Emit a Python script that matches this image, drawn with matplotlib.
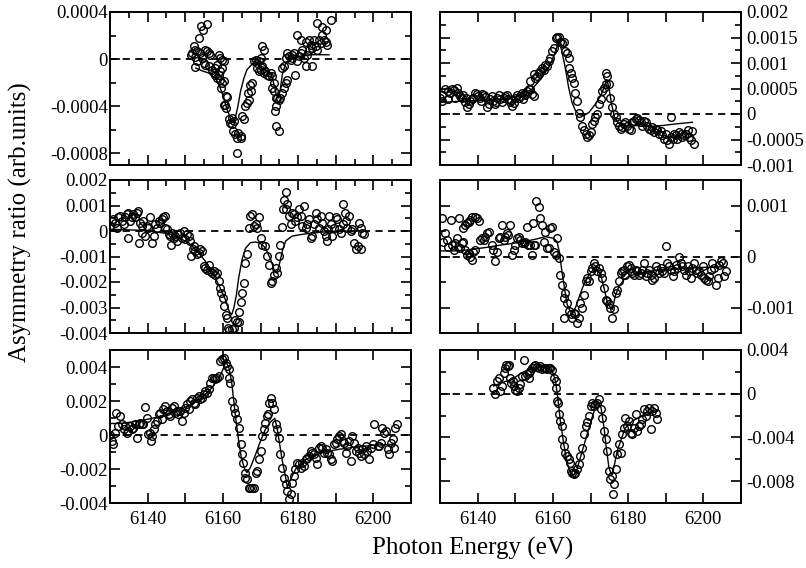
import numpy as np
import matplotlib
matplotlib.use('Agg')
import matplotlib.pyplot as plt
from matplotlib.ticker import MultipleLocator, FixedLocator, FuncFormatter

plt.rcParams['font.family'] = ['Liberation Serif', 'DejaVu Serif']

# energies in eV, asymmetry in units given by the scale of each panel
# --- top left (x1e-4)
scale_tl = 1e-4
pts_tl = [(6151.6, 0.37), (6152.2, 1.07), (6152.7, 0.79), (6153.6, 1.77), (6154.3, 2.85),
          (6154.7, 2.48), (6155.8, 2.96), (6151.8, 0.51), (6152.5, 0.14), (6153.1, 0.65),
          (6154.0, 0.51), (6154.4, 0.08), (6155.3, 0.79), (6155.8, 0.65), (6156.2, 0.51),
          (6156.7, 0.37), (6153.1, -0.20), (6152.5, -0.70), (6154.9, -0.34), (6155.3, -0.48),
          (6156.2, -0.62), (6157.1, -0.90), (6157.6, -1.18), (6158.0, -1.32), (6158.4, -1.61),
          (6158.9, -1.32), (6159.3, -1.04), (6159.8, -0.76), (6160.2, -0.20), (6159.3, 0.08),
          (6158.9, 0.37), (6159.8, -0.06), (6158.4, -0.48), (6157.8, -0.76), (6159.3, -1.75),
          (6159.8, -2.03), (6159.6, -2.45), (6160.2, -1.83), (6160.7, -3.16), (6161.1, -3.24),
          (6160.5, -3.86), (6160.2, -3.86), (6160.8, -4.14), (6161.6, -5.13), (6162.0, -5.41),
          (6162.4, -4.99), (6162.9, -5.27), (6162.3, -5.55), (6162.6, -6.11), (6163.3, -6.39),
          (6164.0, -6.25), (6164.7, -6.54), (6163.8, -6.68), (6164.9, -6.68), (6163.8, -8.00),
          (6165.1, -4.85), (6165.6, -5.13), (6166.0, -4.00), (6166.4, -3.72), (6166.9, -3.44),
          (6166.7, -2.87), (6167.3, -2.23), (6167.8, -2.03), (6167.6, -2.73), (6168.2, -0.20),
          (6168.7, -0.06), (6169.1, -0.34), (6169.6, -0.20), (6170.0, 0.08), (6170.4, 1.07),
          (6170.9, 0.79), (6169.1, -0.76), (6169.6, -1.04), (6170.0, -0.90), (6170.4, -0.62),
          (6170.9, -1.18), (6171.3, -1.04), (6171.8, -1.32), (6172.2, -1.46), (6172.7, -1.18),
          (6173.1, -1.46), (6173.6, -2.03), (6173.1, -2.45), (6173.6, -2.73), (6174.0, -3.30),
          (6174.4, -3.30), (6173.8, -4.42), (6174.2, -4.00), (6174.9, -3.44), (6175.3, -3.30),
          (6175.8, -2.87), (6176.2, -2.45), (6176.7, -2.03), (6177.1, -1.75), (6175.8, -0.76),
          (6176.2, -0.62), (6176.7, 0.08), (6177.1, 0.51), (6177.6, 0.23), (6178.0, -0.06),
          (6178.4, 0.08), (6178.9, 0.51), (6179.3, -1.32), (6179.8, -0.20), (6180.2, 0.23),
          (6180.7, 0.51), (6179.8, 2.06), (6180.7, 1.63), (6181.1, 0.79), (6181.6, 0.08),
          (6182.0, -0.62), (6182.4, 0.37), (6182.9, 0.79), (6183.3, 1.21), (6183.8, 0.93),
          (6183.8, -0.62), (6184.2, 1.63), (6184.7, 1.07), (6185.1, 0.79), (6185.6, 1.63),
          (6186.0, 1.35), (6186.4, 2.06), (6186.9, 1.63), (6187.3, 1.49), (6187.8, 1.21),
          (6187.3, 2.48), (6185.1, 3.04), (6186.4, 2.76), (6188.7, 3.32), (6174.2, -5.69),
          (6174.9, -6.11), (6178.4, 0.37), (6182.0, 1.49), (6182.9, 1.63)]
fit_tl = [(6152.8, -0.76), (6154.4, -0.99), (6156.2, -1.18), (6158.0, -1.61), (6159.3, -2.45),
          (6160.2, -3.30), (6161.1, -4.28), (6162.0, -4.99), (6162.7, -5.41), (6163.3, -4.99),
          (6164.0, -4.00), (6164.7, -2.73), (6165.6, -1.61), (6166.4, -0.90), (6167.8, -0.42),
          (6169.1, -0.25), (6170.4, -0.34), (6171.8, -0.76), (6172.8, -1.32), (6173.6, -2.17),
          (6174.2, -3.07), (6174.7, -3.30), (6175.2, -2.73), (6175.8, -1.32), (6176.7, -0.34),
          (6178.0, 0.08), (6180.2, 0.23), (6183.8, 0.37), (6188.2, 0.37)]

# --- top right (x1e-4)
scale_tr = 1e-4
pts_tr = [(6130.0, 3.23), (6130.6, 3.75), (6131.3, 4.85), (6132.0, 4.52), (6132.7, 4.20),
          (6133.1, 4.85), (6133.8, 4.65), (6134.4, 5.17), (6134.9, 4.20), (6135.3, 3.55),
          (6135.8, 3.23), (6136.2, 3.75), (6136.7, 2.26), (6137.1, 1.29), (6137.6, 1.94),
          (6138.0, 2.58), (6138.4, 2.91), (6138.9, 3.23), (6139.3, 4.20), (6139.8, 3.88),
          (6140.2, 3.55), (6140.7, 3.10), (6141.1, 4.01), (6141.6, 3.75), (6142.0, 3.36),
          (6142.4, 1.42), (6142.9, 1.94), (6143.3, 2.91), (6143.8, 3.55), (6144.2, 2.58),
          (6144.7, 1.94), (6145.1, 3.23), (6145.6, 3.75), (6146.0, 2.91), (6146.4, 2.26),
          (6146.9, 3.23), (6147.3, 3.55), (6147.8, 3.75), (6148.2, 2.91), (6148.7, 2.26),
          (6149.1, 1.62), (6149.6, 2.07), (6150.0, 3.23), (6150.4, 3.75), (6150.9, 3.23),
          (6151.3, 3.55), (6151.8, 4.20), (6152.2, 4.01), (6152.7, 3.75), (6153.1, 4.52),
          (6153.6, 4.85), (6154.0, 4.85), (6154.4, 3.88), (6154.9, 3.55), (6154.0, 6.46),
          (6154.9, 7.75), (6155.3, 7.11), (6155.8, 7.43), (6156.2, 8.08), (6156.7, 8.40),
          (6157.1, 9.04), (6157.6, 8.72), (6158.0, 9.69), (6158.4, 9.37), (6158.9, 10.34),
          (6159.3, 10.98), (6159.8, 12.27), (6160.2, 12.92), (6160.7, 14.86), (6161.1, 15.18),
          (6161.6, 15.18), (6162.0, 14.21), (6162.4, 13.89), (6162.9, 14.21), (6163.3, 12.27),
          (6163.8, 11.95), (6164.2, 10.98), (6164.4, 9.04), (6164.7, 8.08), (6165.1, 7.11),
          (6165.6, 6.14), (6166.0, 4.20), (6166.4, 2.58), (6166.9, 0.13), (6167.3, -0.65),
          (6167.8, -2.26), (6168.2, -3.23), (6168.7, -3.88), (6169.1, -4.52), (6169.6, -4.20),
          (6170.0, -3.55), (6170.4, -1.94), (6170.9, -1.29), (6171.3, -0.65), (6171.8, 0.00),
          (6172.2, 1.94), (6172.7, 2.91), (6173.1, 4.52), (6173.6, 5.17), (6174.0, 5.81),
          (6174.2, 8.08), (6174.4, 7.43), (6174.9, 5.81), (6175.3, 3.23), (6175.8, 1.29),
          (6176.2, 0.00), (6176.7, -0.65), (6177.1, -1.62), (6177.6, -2.26), (6178.0, -2.91),
          (6178.4, -2.58), (6178.9, -1.94), (6179.3, -1.62), (6179.8, -2.26), (6180.2, -2.91),
          (6180.7, -3.23), (6181.1, -1.62), (6181.6, -1.29), (6182.0, -0.97), (6182.4, -0.78),
          (6182.9, -1.16), (6183.3, -1.62), (6183.8, -2.26), (6184.2, -1.29), (6184.7, -1.62),
          (6185.1, -2.26), (6185.6, -2.91), (6186.0, -3.23), (6186.4, -2.58), (6186.9, -3.55),
          (6187.3, -2.91), (6187.8, -3.23), (6188.2, -3.88), (6188.7, -3.36), (6189.1, -4.20),
          (6189.6, -4.85), (6190.0, -3.88), (6190.4, -5.17), (6190.9, -5.81), (6191.3, -0.52),
          (6191.3, -4.52), (6191.8, -4.85), (6192.2, -3.88), (6192.7, -4.20), (6193.1, -4.85),
          (6193.6, -3.55), (6194.0, -3.88), (6194.4, -4.52), (6194.9, -4.20), (6195.3, -3.88),
          (6195.8, -3.23), (6196.2, -4.52), (6196.7, -5.17), (6197.1, -3.36), (6197.6, -5.94),
          (6130.4, 2.58), (6132.2, 2.91), (6134.0, 3.23), (6137.0, 3.10), (6141.0, 2.60),
          (6145.0, 2.40), (6149.0, 2.80), (6152.0, 2.90)]
fit_tr = [(6130.0, 2.26), (6134.0, 2.45), (6137.6, 2.58), (6142.0, 2.71), (6146.4, 2.91),
          (6150.9, 3.55), (6154.4, 4.85), (6157.1, 7.11), (6159.3, 9.69), (6160.7, 12.27),
          (6161.4, 13.89), (6161.7, 14.21), (6162.4, 12.27), (6163.3, 9.04), (6164.2, 5.17),
          (6165.1, 2.26), (6166.0, 0.65), (6167.1, -0.13), (6168.2, -0.32), (6169.6, 0.32),
          (6171.3, 1.94), (6172.7, 3.55), (6173.6, 5.17), (6174.3, 6.78), (6174.9, 5.17),
          (6175.6, 1.94), (6176.4, -0.65), (6177.6, -1.94), (6179.3, -2.26), (6182.0, -2.26),
          (6185.6, -2.45), (6189.1, -2.26), (6192.7, -1.94), (6197.1, -1.62)]

# --- middle left (x1e-3)
scale_ml = 1e-3
pts_ml = [(6130.0, 0.20), (6130.4, 0.39), (6130.9, 0.46), (6131.3, 0.33), (6131.8, 0.13),
          (6132.2, 0.53), (6132.7, 0.59), (6133.1, 0.39), (6133.6, 0.26), (6134.0, 0.53),
          (6134.4, 0.66), (6134.7, -0.26), (6134.9, 0.72), (6135.3, 0.39), (6135.8, 0.53),
          (6136.2, 0.66), (6136.7, 0.53), (6137.1, 0.72), (6137.4, 0.79), (6137.6, -0.46),
          (6138.0, 0.33), (6138.4, 0.20), (6138.6, -0.07), (6138.9, 0.39), (6139.3, -0.20),
          (6139.8, 0.20), (6140.2, 0.13), (6140.7, 0.53), (6141.1, -0.49), (6141.6, -0.20),
          (6142.0, 0.26), (6142.4, 0.13), (6142.9, 0.39), (6143.3, 0.33), (6143.8, 0.46),
          (6144.2, 0.53), (6144.7, 0.59), (6144.7, 0.13), (6145.1, 0.07), (6145.6, -0.13),
          (6146.0, -0.20), (6146.3, -0.55), (6146.4, -0.07), (6146.9, -0.26), (6147.3, -0.20),
          (6147.8, -0.39), (6148.2, -0.13), (6148.7, -0.07), (6149.1, -0.26), (6149.6, 0.00),
          (6150.0, -0.33), (6150.4, -0.11), (6150.9, -0.20), (6151.3, -0.39), (6151.6, -0.99),
          (6152.0, -0.72), (6152.2, -0.59), (6152.7, -0.79), (6153.1, -0.92), (6153.6, -0.86),
          (6154.0, -0.72), (6154.4, -0.79), (6154.9, -1.38), (6155.3, -1.45), (6155.8, -1.51),
          (6156.2, -1.32), (6156.7, -1.58), (6157.1, -1.65), (6157.6, -1.58), (6158.0, -1.71),
          (6158.4, -1.65), (6158.9, -1.97), (6159.3, -2.24), (6159.6, -2.43), (6160.0, -2.63),
          (6160.2, -2.96), (6160.7, -3.29), (6161.1, -3.42), (6161.4, -3.82), (6161.7, -3.88),
          (6162.3, -3.84), (6162.9, -3.82), (6163.3, -3.49), (6163.8, -3.55), (6164.2, -3.16),
          (6164.4, -3.55), (6164.7, -2.80), (6165.1, -2.43), (6165.6, -2.04), (6166.0, -1.25),
          (6166.4, -0.92), (6166.9, 0.13), (6167.3, 0.59), (6167.8, 0.66), (6168.2, 0.20),
          (6168.7, 0.26), (6169.1, 0.13), (6169.7, 0.53), (6170.0, -0.26), (6170.4, -0.53),
          (6171.3, -0.59), (6171.8, -0.99), (6172.2, -1.32), (6172.7, -2.04), (6173.1, -1.97),
          (6173.6, -1.71), (6174.0, -1.45), (6174.4, -1.65), (6174.9, -0.99), (6175.3, -0.53),
          (6175.6, 0.16), (6176.0, 0.86), (6176.2, 1.21), (6176.7, 1.51), (6177.1, 1.05),
          (6176.7, 0.86), (6177.6, 0.59), (6178.0, 0.26), (6178.4, 0.72), (6178.9, 0.66),
          (6179.3, 0.39), (6179.8, 0.53), (6180.2, 0.86), (6180.7, 0.59), (6181.1, 0.20),
          (6181.6, 0.99), (6182.0, 0.13), (6182.4, 0.26), (6182.9, 0.46), (6183.3, -0.26),
          (6183.8, -0.20), (6184.2, 0.26), (6184.7, 0.72), (6185.1, 0.46), (6185.6, 0.13),
          (6186.0, 0.59), (6186.4, 0.33), (6186.9, 0.00), (6187.3, -0.20), (6187.8, -0.39),
          (6188.0, 0.07), (6188.2, 0.59), (6188.7, 0.26), (6189.1, -0.20), (6189.6, 0.13),
          (6190.0, 0.53), (6190.4, 0.46), (6190.9, 0.07), (6191.3, -0.07), (6191.8, 0.26),
          (6192.0, 1.05), (6192.5, 0.72), (6192.8, 0.39), (6193.1, 0.13), (6193.6, 0.59),
          (6194.0, 0.00), (6194.4, 0.07), (6194.9, -0.46), (6195.3, -0.72), (6195.8, -0.59),
          (6196.7, -0.72), (6196.2, 0.33), (6196.7, 0.13), (6197.1, -0.07), (6197.6, -0.13)]
fit_ml = [(6130.0, 0.07), (6137.6, 0.03), (6142.0, -0.03), (6146.4, -0.13), (6150.9, -0.46),
          (6153.6, -0.86), (6155.3, -1.18), (6157.1, -1.58), (6158.9, -2.11), (6160.7, -2.70),
          (6161.7, -3.16), (6162.3, -3.29), (6162.9, -3.03), (6163.6, -2.50), (6164.2, -1.84),
          (6165.1, -1.12), (6166.0, -0.68), (6167.3, -0.46), (6168.7, -0.43), (6170.0, -0.49),
          (6171.3, -0.66), (6172.7, -1.12), (6173.6, -1.51), (6174.2, -1.65), (6174.9, -1.38),
          (6175.8, -0.79), (6176.7, -0.39), (6178.4, -0.20), (6181.1, -0.13), (6183.8, -0.08),
          (6187.3, -0.03), (6190.9, 0.0), (6198.0, 0.0)]

# --- middle right (x1e-4)
scale_mr = 1e-4
pts_mr = [(6130.6, 7.46), (6132.9, 7.14), (6135.1, 7.59), (6131.3, 4.54), (6130.9, 2.92),
          (6131.8, 3.25), (6132.2, 1.95), (6133.1, 2.27), (6133.6, 1.30), (6134.0, 2.60),
          (6134.4, 3.57), (6134.9, 1.95), (6135.3, 1.62), (6135.8, 2.60), (6136.2, 2.92),
          (6136.7, 1.30), (6137.1, 0.32), (6137.6, 0.65), (6138.0, 0.00), (6138.4, -0.65),
          (6138.9, 0.97), (6139.3, 1.30), (6136.2, 5.52), (6136.7, 6.17), (6137.1, 6.49),
          (6137.6, 6.81), (6138.0, 7.14), (6138.4, 7.79), (6139.2, 7.79), (6139.8, 7.46),
          (6140.4, 6.94), (6140.7, 3.25), (6141.1, 3.57), (6141.6, 3.25), (6142.0, 3.89),
          (6142.4, 4.54), (6142.9, 4.87), (6143.8, 2.27), (6144.2, 1.30), (6144.7, -0.97),
          (6145.1, 0.97), (6145.6, 3.57), (6146.0, 3.89), (6146.4, 6.17), (6146.9, 3.25),
          (6147.3, 3.89), (6147.8, 4.54), (6148.2, 4.22), (6148.7, 6.17), (6149.1, 0.32),
          (6149.6, 1.30), (6150.0, 2.27), (6150.4, 3.57), (6150.9, 3.89), (6151.3, 3.25),
          (6151.8, 2.60), (6152.2, 2.60), (6152.7, 2.92), (6153.1, 5.84), (6153.4, 2.27),
          (6154.0, 2.27), (6154.4, 0.32), (6154.6, 6.49), (6154.9, 2.27), (6155.3, 2.27),
          (6155.5, 10.90), (6156.2, 9.74), (6156.7, 7.46), (6157.1, 6.17), (6157.6, 2.92),
          (6158.0, 4.87), (6158.4, 1.62), (6158.9, 1.62), (6159.3, 5.52), (6159.8, 5.84),
          (6160.2, 0.97), (6160.7, 0.32), (6161.1, 3.57), (6161.6, -0.32), (6162.0, -3.57),
          (6162.4, -5.52), (6162.9, -8.11), (6163.3, -7.14), (6163.8, -9.09), (6162.9, -12.01),
          (6164.2, -10.71), (6164.7, -11.36), (6165.1, -12.01), (6165.6, -11.03), (6166.0, -11.36),
          (6166.4, -12.98), (6166.9, -12.01), (6167.3, -9.09), (6167.8, -10.06), (6168.2, -7.46),
          (6168.7, -4.87), (6169.1, -4.22), (6169.6, -4.87), (6170.0, -2.92), (6170.4, -2.27),
          (6170.9, -1.30), (6171.3, -1.95), (6171.8, -2.92), (6172.2, -2.27), (6172.7, -3.25),
          (6173.1, -4.22), (6173.6, -6.17), (6174.0, -8.44), (6174.4, -8.76), (6174.9, -9.41),
          (6175.3, -10.06), (6175.8, -12.01), (6176.2, -10.38), (6176.7, -7.14), (6177.1, -6.49),
          (6177.6, -4.87), (6178.0, -3.25), (6178.4, -2.92), (6178.9, -2.60), (6179.3, -3.57),
          (6179.8, -1.95), (6180.2, -1.62), (6180.7, -2.27), (6181.1, -3.25), (6181.6, -3.57),
          (6182.0, -2.60), (6182.4, -2.92), (6182.9, -3.57), (6183.3, -3.25), (6183.8, -2.60),
          (6184.2, -1.30), (6184.7, -3.89), (6185.1, -3.25), (6185.6, -2.60), (6186.0, -3.57),
          (6186.4, -4.54), (6186.9, -4.22), (6187.3, -1.95), (6187.8, -2.60), (6188.2, -3.25),
          (6188.7, -2.27), (6189.1, -2.92), (6189.6, -3.25), (6190.0, 2.14), (6190.4, -1.30),
          (6190.9, -1.95), (6191.3, -2.60), (6191.8, -3.89), (6192.2, -2.92), (6192.7, -1.62),
          (6193.1, -2.27), (6193.6, 0.00), (6194.0, -1.30), (6194.4, -1.95), (6194.9, -2.60),
          (6195.3, -3.57), (6195.8, -1.95), (6196.2, -2.92), (6196.7, -4.22), (6197.1, -2.27),
          (6197.6, -1.30), (6198.0, -2.60), (6198.4, -3.25), (6198.9, -2.92), (6199.3, -3.57),
          (6199.8, -1.95), (6200.2, -4.22), (6200.7, -4.54), (6201.1, -4.87), (6201.6, -3.89),
          (6202.0, -2.60), (6202.4, -1.30), (6202.9, -2.27), (6203.3, -5.52), (6203.8, -4.22),
          (6204.2, -1.62), (6204.7, -0.97), (6205.1, -1.30), (6205.6, -3.89), (6206.0, -2.92)]
fit_mr = [(6130.0, 1.10), (6134.0, 1.10), (6137.6, 1.30), (6142.0, 1.75), (6146.4, 2.27),
          (6150.9, 2.73), (6155.3, 3.37), (6158.0, 3.89), (6160.2, 3.57), (6161.1, 2.92),
          (6161.7, 0.97), (6162.4, -2.92), (6163.2, -6.81), (6163.8, -9.41), (6164.5, -10.58),
          (6165.1, -10.84), (6166.0, -10.06), (6166.9, -8.11), (6168.2, -5.52), (6169.6, -3.57),
          (6170.9, -2.47), (6171.8, -2.60), (6172.7, -3.57), (6173.6, -6.17), (6174.4, -8.76),
          (6175.3, -10.06), (6175.8, -10.38), (6176.7, -7.46), (6177.6, -5.84), (6178.9, -4.54),
          (6180.2, -3.89), (6182.9, -3.25), (6186.4, -2.79), (6190.9, -2.47), (6195.3, -2.27),
          (6199.8, -2.14), (6206.0, -2.01)]

# --- bottom left (x1e-3)
scale_bl = 1e-3
pts_bl = [(6130.0, 0.00), (6130.4, -0.35), (6130.9, -0.55), (6131.2, 0.14), (6131.5, 1.31),
          (6132.2, 0.53), (6132.7, 1.12), (6133.1, 0.63), (6133.6, 0.33), (6134.0, 0.53),
          (6134.4, 0.14), (6134.9, 0.24), (6135.3, 0.53), (6135.8, 0.33), (6136.2, 0.43),
          (6136.7, 0.63), (6137.1, -0.16), (6137.6, 0.63), (6138.0, 0.73), (6138.4, 0.67),
          (6138.9, 0.63), (6139.3, 1.65), (6139.8, 1.02), (6140.2, 0.04), (6140.7, 0.14),
          (6140.9, -0.35), (6141.1, -0.06), (6141.6, 0.33), (6142.0, 0.63), (6142.4, 0.82),
          (6142.9, 1.22), (6143.3, 1.31), (6143.8, 0.92), (6144.2, 1.51), (6144.7, 1.71),
          (6145.1, 1.41), (6145.6, 1.22), (6146.0, 1.12), (6146.4, 1.61), (6146.9, 1.71),
          (6147.3, 1.31), (6147.8, 1.41), (6148.2, 1.22), (6148.7, 1.41), (6149.1, 0.82),
          (6149.6, 1.31), (6150.0, 1.61), (6150.4, 1.80), (6150.9, 1.51), (6151.3, 2.00),
          (6151.8, 2.10), (6152.2, 1.90), (6152.7, 1.80), (6153.1, 2.20), (6153.6, 2.29),
          (6154.0, 2.10), (6154.4, 2.20), (6154.9, 2.39), (6155.3, 2.59), (6155.8, 2.49),
          (6156.2, 2.69), (6156.7, 3.08), (6157.1, 3.37), (6157.6, 3.37), (6158.0, 3.31),
          (6158.4, 3.37), (6158.9, 3.47), (6159.3, 4.35), (6159.8, 4.45), (6160.2, 4.55),
          (6160.7, 4.25), (6161.1, 4.06), (6161.6, 3.86), (6161.7, 3.37), (6162.0, 3.08),
          (6162.4, 2.00), (6162.9, 1.61), (6163.3, 1.31), (6163.8, 0.92), (6164.2, 0.43),
          (6164.7, -0.55), (6165.1, -1.14), (6165.4, -1.63), (6165.8, -2.21), (6166.0, -2.51),
          (6166.4, -2.61), (6166.9, -3.10), (6167.3, -3.10), (6167.8, -3.10), (6168.2, -3.10),
          (6168.7, -2.21), (6169.1, -2.12), (6169.6, -1.43), (6170.0, -0.94), (6170.4, -0.06),
          (6170.9, 0.33), (6171.3, 0.73), (6171.8, 1.12), (6172.0, 1.22), (6172.2, 1.90),
          (6172.7, 2.20), (6173.1, 1.90), (6173.6, 1.51), (6174.0, 0.63), (6174.4, 0.33),
          (6174.9, -0.16), (6175.3, -1.14), (6175.8, -1.92), (6176.2, -2.51), (6176.7, -2.90),
          (6177.1, -3.29), (6177.6, -3.78), (6178.0, -3.49), (6178.4, -2.80), (6178.9, -2.41),
          (6179.3, -2.02), (6179.8, -1.63), (6180.2, -1.72), (6180.7, -1.92), (6181.1, -1.63),
          (6181.6, -1.82), (6182.0, -1.43), (6182.4, -1.33), (6182.9, -1.23), (6183.3, -0.94),
          (6183.8, -1.04), (6184.2, -1.14), (6184.7, -1.33), (6185.1, -1.72), (6185.6, -0.74),
          (6186.0, -0.65), (6186.4, -0.74), (6186.9, -1.04), (6187.3, -0.84), (6187.8, -1.04),
          (6188.2, -1.14), (6188.7, -1.43), (6189.1, -1.53), (6189.6, -0.55), (6190.0, -0.45),
          (6190.4, -0.25), (6190.9, -0.06), (6191.3, 0.04), (6191.8, -0.35), (6192.2, -0.45),
          (6192.7, -1.04), (6193.1, -0.65), (6193.6, -0.35), (6194.0, -1.53), (6194.4, -0.06),
          (6194.9, -0.45), (6195.3, -0.94), (6195.8, -0.74), (6196.2, -1.04), (6196.7, -1.23),
          (6197.1, -0.84), (6197.6, -1.14), (6198.0, -0.65), (6198.4, -0.94), (6198.9, -1.43),
          (6199.3, -0.74), (6199.8, -0.55), (6200.2, 0.63), (6201.1, -0.65), (6201.6, -0.65),
          (6202.0, -0.45), (6202.4, 0.43), (6202.9, 0.14), (6203.3, 0.24), (6203.8, -0.84),
          (6204.2, -1.14), (6204.7, -0.45), (6205.1, -0.25), (6205.6, -0.74), (6205.8, 0.43),
          (6206.2, 0.67)]
fit_bl = [(6130.0, 0.67), (6133.1, 0.69), (6137.6, 0.82), (6142.0, 1.02), (6146.4, 1.31),
          (6150.9, 1.71), (6154.4, 2.20), (6157.1, 2.78), (6159.3, 3.47), (6160.2, 3.96),
          (6160.8, 4.31), (6161.6, 3.96), (6162.3, 3.18), (6162.9, 2.00), (6163.5, 0.82),
          (6164.2, -0.35), (6164.9, -1.33), (6165.8, -2.02), (6166.4, -2.21), (6167.3, -1.92),
          (6168.7, -1.14), (6170.0, -0.35), (6171.3, 0.33), (6172.7, 0.78), (6173.8, 0.98),
          (6174.4, 0.43), (6175.1, -0.55), (6175.8, -1.53), (6176.7, -2.51), (6177.1, -3.06),
          (6178.0, -2.61), (6179.3, -2.02), (6181.1, -1.57), (6183.8, -1.23), (6187.3, -0.98),
          (6190.9, -0.84), (6195.3, -0.71), (6199.8, -0.61), (6205.1, -0.55)]

# --- bottom right (x1e-3)
scale_br = 1e-3
pts_br = [(6144.2, 0.55), (6144.7, -0.06), (6145.1, 1.16), (6145.6, 1.46), (6146.0, 0.24),
          (6146.4, 0.70), (6146.9, 1.92), (6147.3, 2.38), (6147.5, 2.62), (6148.0, 2.53),
          (6148.4, 2.62), (6148.7, 1.46), (6148.9, 1.01), (6149.3, 1.16), (6149.6, 0.70),
          (6150.0, 0.30), (6150.4, 0.24), (6150.9, 0.55), (6151.3, 0.85), (6151.8, 1.62),
          (6152.2, 3.08), (6152.7, 1.62), (6153.1, 1.77), (6153.6, 1.92), (6153.7, 1.46),
          (6154.0, 2.07), (6154.4, 2.38), (6154.9, 2.53), (6155.3, 2.62), (6155.8, 2.44),
          (6156.2, 2.38), (6156.7, 2.53), (6157.1, 2.23), (6157.6, 2.38), (6158.0, 2.38),
          (6158.4, 2.23), (6158.9, 2.32), (6159.3, 2.38), (6159.8, 2.14), (6160.2, 1.46),
          (6160.7, 1.16), (6160.8, 0.55), (6161.1, -0.67), (6161.4, -0.82), (6161.7, -1.89),
          (6162.0, -2.50), (6162.3, -2.96), (6162.4, -4.18), (6162.9, -4.79), (6163.3, -5.40),
          (6163.8, -5.70), (6164.2, -6.01), (6164.5, -6.31), (6164.7, -7.08), (6165.1, -7.23),
          (6165.6, -7.38), (6166.0, -7.23), (6166.4, -6.92), (6166.9, -6.47), (6167.3, -5.70),
          (6167.8, -4.94), (6168.2, -3.72), (6168.7, -2.96), (6169.1, -2.56), (6169.6, -2.04),
          (6170.0, -1.13), (6170.4, -0.82), (6170.9, -1.13), (6171.3, -0.98), (6171.8, -0.82),
          (6172.2, -0.52), (6172.7, -1.43), (6173.1, -2.20), (6173.6, -3.42), (6174.0, -4.18),
          (6174.4, -5.25), (6174.9, -7.08), (6175.3, -7.84), (6175.8, -7.53), (6176.0, -9.15),
          (6176.2, -8.30), (6176.7, -6.92), (6177.1, -5.55), (6177.6, -4.64), (6178.0, -5.40),
          (6178.4, -3.72), (6178.9, -3.11), (6179.3, -2.20), (6179.8, -2.96), (6180.2, -2.50),
          (6180.7, -3.57), (6181.1, -3.72), (6181.6, -3.11), (6182.0, -1.89), (6182.4, -3.42),
          (6182.9, -2.96), (6183.3, -2.81), (6183.8, -2.35), (6184.2, -1.43), (6184.7, -2.04),
          (6185.1, -1.59), (6185.6, -1.28), (6186.0, -3.26), (6186.4, -1.59), (6186.9, -1.28),
          (6187.3, -1.74), (6187.8, -2.35)]
fit_br = [(6144.2, 0.70), (6146.4, 1.01), (6149.1, 1.31), (6151.8, 1.92), (6154.4, 2.32),
          (6157.1, 2.44), (6158.9, 2.32), (6160.0, 1.92), (6160.7, 1.16), (6161.3, -0.37),
          (6162.0, -2.50), (6162.9, -4.64), (6163.8, -6.31), (6164.7, -7.23), (6165.6, -7.44),
          (6166.4, -6.92), (6167.8, -5.25), (6169.1, -3.72), (6170.4, -2.20), (6171.4, -1.13),
          (6172.2, -0.82), (6172.8, -1.28), (6173.6, -3.11), (6174.2, -4.94), (6174.9, -6.77),
          (6175.6, -7.44), (6176.2, -6.77), (6177.1, -5.25), (6178.3, -4.03), (6179.3, -3.11),
          (6181.1, -2.50), (6183.8, -2.04), (6187.8, -1.59)]

# axis ranges and ticks per panel
ylim_tl, yt_tl, ym_tl = (-0.0009, 0.0004), [-0.0008, -0.0004, 0, 0.0004], 0.0002
ylim_tr, yt_tr, ym_tr = (-0.001, 0.002), [-0.001, -0.0005, 0, 0.0005, 0.001, 0.0015, 0.002], 0.00025
ylim_ml, yt_ml, ym_ml = (-0.004, 0.002), [-0.004, -0.003, -0.002, -0.001, 0, 0.001, 0.002], 0.0005
ylim_mr, yt_mr, ym_mr = (-0.0015, 0.0015), [-0.001, 0, 0.001], 0.0005
ylim_bl, yt_bl, ym_bl = (-0.004, 0.005), [-0.004, -0.002, 0, 0.002, 0.004], 0.001
ylim_br, yt_br, ym_br = (-0.01, 0.004), [-0.008, -0.004, 0, 0.004], 0.002

fig = plt.figure(figsize=(8.06, 5.68), dpi=100)

W = 568.0
left_x, right_x = 110 / 806, 440 / 806
col_w = 301 / 806
row_h = 153 / W
row_b = [1 - 165 / W, 1 - 333 / W, 1 - 503 / W]

panels = [
    (left_x, row_b[0], pts_tl, fit_tl, scale_tl, ylim_tl, yt_tl, ym_tl, 'left', 5, False),
    (right_x, row_b[0], pts_tr, fit_tr, scale_tr, ylim_tr, yt_tr, ym_tr, 'right', None, False),
    (left_x, row_b[1], pts_ml, fit_ml, scale_ml, ylim_ml, yt_ml, ym_ml, 'left', 5, False),
    (right_x, row_b[1], pts_mr, fit_mr, scale_mr, ylim_mr, yt_mr, ym_mr, 'right', None, False),
    (left_x, row_b[2], pts_bl, fit_bl, scale_bl, ylim_bl, yt_bl, ym_bl, 'left', None, True),
    (right_x, row_b[2], pts_br, fit_br, scale_br, ylim_br, yt_br, ym_br, 'right', None, True),
]

xfmt = FuncFormatter(lambda v, p: '%d' % round(v) if round(v) % 20 == 0 else '')
yfmt = FuncFormatter(lambda v, p: '%g' % v)

for (x0, y0, pts, fit, sc, ylim, yt, ym, side, xminor, xlab) in panels:
    ax = fig.add_axes([x0, y0, col_w, row_h])
    p = np.array(pts)
    f = np.array(fit)
    ax.axhline(0, color='black', lw=1.3, ls=(0, (4, 3)), zorder=1)
    ax.plot(f[:, 0], f[:, 1] * sc, color='black', lw=1.0, zorder=2)
    ax.plot(p[:, 0], p[:, 1] * sc, 'o', ms=5.5, mfc='none', mec='black', mew=1.0, zorder=3)

    ax.set_xlim(6130, 6210)
    ax.set_ylim(*ylim)
    ax.xaxis.set_major_locator(MultipleLocator(10))
    if xminor:
        ax.xaxis.set_minor_locator(MultipleLocator(xminor))
    ax.xaxis.set_major_formatter(xfmt)
    ax.yaxis.set_major_locator(FixedLocator(yt))
    ax.yaxis.set_minor_locator(MultipleLocator(ym))
    ax.yaxis.set_major_formatter(yfmt)

    ax.tick_params(which='both', direction='in', top=True, bottom=True, left=True, right=True,
                   width=1.2, labelsize=13.5)
    ax.tick_params(which='major', length=7)
    ax.tick_params(which='minor', length=4)
    ax.tick_params(axis='x', labelbottom=xlab, pad=6)
    if side == 'left':
        ax.tick_params(axis='y', labelleft=True, labelright=False, pad=1.5)
    else:
        ax.tick_params(axis='y', labelleft=False, labelright=True, pad=4)
    for s in ax.spines.values():
        s.set_linewidth(1.4)

fig.text(473 / 806, 1 - 548 / W, 'Photon Energy (eV)', ha='center', va='center', fontsize=18)
fig.text(20 / 806, 1 - 222 / W, 'Asymmetry ratio (arb.units)', ha='center', va='center',
         rotation=90, fontsize=18)

fig.savefig('out.png', dpi=100)
